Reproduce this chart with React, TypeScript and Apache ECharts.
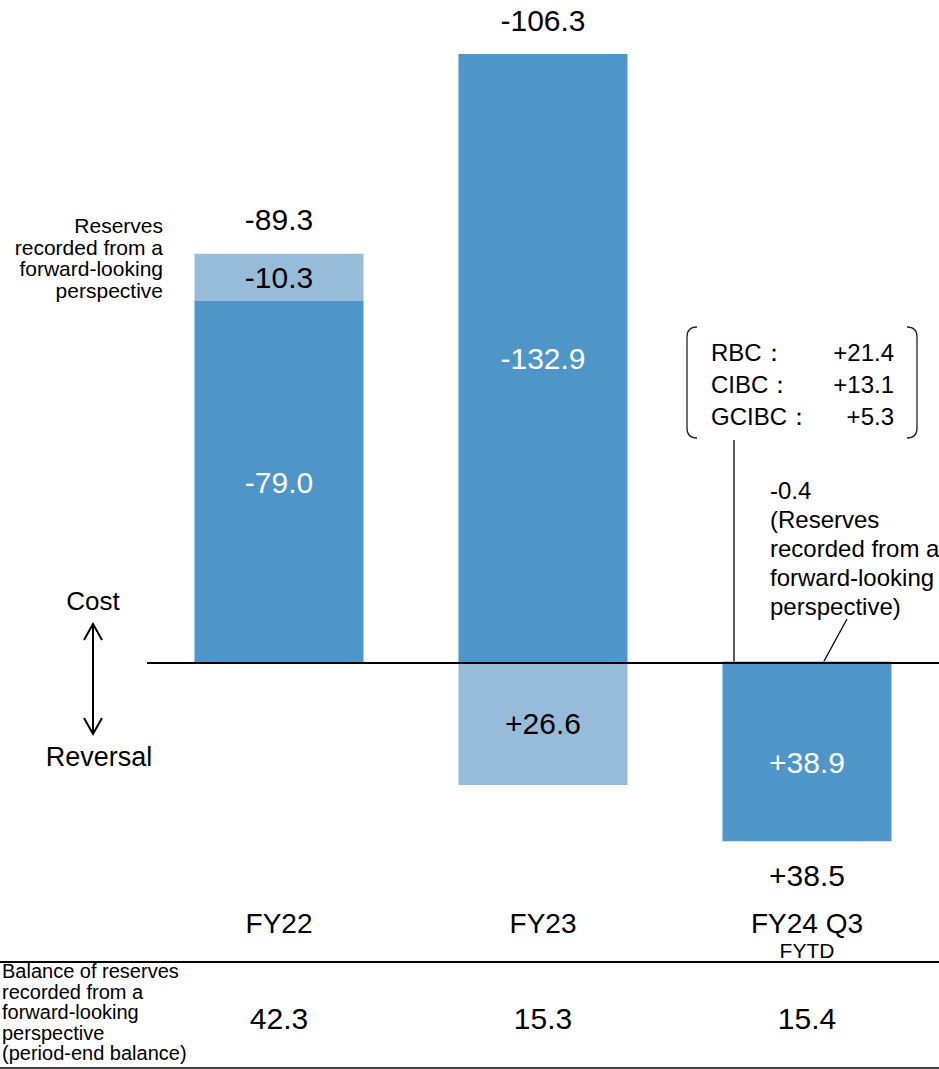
import React, { useEffect, useRef } from "react";
import * as echarts from "echarts";

const categories = ["FY22", "FY23", "FY24 Q3"];
const categorySubLabels = ["", "", "FYTD"];
// positive = cost (drawn upward), negative = reversal (drawn downward)
const specificValues = [79.0, 132.9, -38.9];
const forwardLookingValues = [10.3, -26.6, 0.4];
const balances = [42.3, 15.3, 15.4];
const callRows = ["RBC：", "CIBC：", "GCIBC："];
const callValues = ["+21.4", "+13.1", "+5.3"];

const DARK = "#4F96C8";
const LIGHT = "#96BCD9";
const FONT = '"Liberation Sans", Arial, sans-serif';

const fmt = (v: number) => (v > 0 ? "-" : "+") + Math.abs(v).toFixed(1);

echarts.graphic.registerShape(
  "bracketL",
  echarts.graphic.extendPath("M 10 0 Q 0 0 0 10 L 0 101 Q 0 111 10 111", {})
);
echarts.graphic.registerShape(
  "bracketR",
  echarts.graphic.extendPath("M 0 0 Q 10 0 10 10 L 10 101 Q 10 111 0 111", {})
);

export default function App() {
  const ref = useRef<HTMLDivElement>(null);
  useEffect(() => {
    document.body.style.margin = "0";
    const chart = echarts.init(ref.current!, null, { renderer: "svg" });

    const totals = categories.map((_, i) => {
      const vals = [specificValues[i], forwardLookingValues[i]];
      const pos = vals.filter((v) => v > 0).reduce((a, b) => a + b, 0);
      const neg = vals.filter((v) => v < 0).reduce((a, b) => a + b, 0);
      const net = vals[0] + vals[1];
      return {
        value: net > 0 ? pos : neg,
        label: {
          show: true,
          position: net > 0 ? "top" : "bottom",
          distance: 19,
          color: "#000",
          opacity: 1,
          formatter: fmt(Math.round(net * 10) / 10),
        },
      };
    });

    const text = (x: number, y: number, t: string, size: number, extra: any = {}) => ({
      type: "text",
      x,
      y,
      style: {
        text: t,
        fill: "#000",
        fontFamily: FONT,
        fontSize: size,
        align: "center",
        verticalAlign: "middle",
        ...extra,
      },
    });
    const line = (x1: number, y1: number, x2: number, y2: number, w = 1.5) => ({
      type: "line",
      shape: { x1, y1, x2, y2 },
      style: { stroke: "#000", lineWidth: w },
    });

    const graphics: any[] = [
      text(163, 215, "Reserves\nrecorded from a\nforward-looking\nperspective", 21, {
        align: "right",
        verticalAlign: "top",
        lineHeight: 21.5,
      }),
      text(93, 601, "Cost", 26),
      text(99, 757, "Reversal", 27),
      line(93, 624, 93, 734, 2),
      {
        type: "polyline",
        shape: { points: [[84, 640], [93, 624], [102, 640]] },
        style: { stroke: "#000", lineWidth: 2, fill: "none" },
      },
      {
        type: "polyline",
        shape: { points: [[84, 718], [93, 734], [102, 718]] },
        style: { stroke: "#000", lineWidth: 2, fill: "none" },
      },
      { type: "bracketL", x: 687, y: 327, style: { stroke: "#222", lineWidth: 1.3, fill: "none" } },
      { type: "bracketR", x: 907, y: 327, style: { stroke: "#222", lineWidth: 1.3, fill: "none" } },
      line(734, 440, 734, 663, 1.3),
      text(770, 476, "-0.4\n(Reserves\nrecorded from a\nforward-looking\nperspective)", 24, {
        align: "left",
        verticalAlign: "top",
        lineHeight: 29,
      }),
      line(847, 619, 823, 663, 1.3),
      line(0, 962, 939, 962, 2),
      line(0, 1068, 939, 1068, 1.5),
      text(2, 961, "Balance of reserves\nrecorded from a\nforward-looking\nperspective\n(period-end balance)", 20, {
        align: "left",
        verticalAlign: "top",
        lineHeight: 20.5,
      }),
    ];
    callRows.forEach((r, i) => {
      graphics.push(text(711, 352 + i * 32, r, 24, { align: "left" }));
      graphics.push(text(894, 352 + i * 32, callValues[i], 24, { align: "right" }));
    });

    chart.setOption({
      animation: false,
      backgroundColor: "#fff",
      textStyle: { fontFamily: FONT },
      grid: { left: 147, right: 0, top: 21.5, bottom: 1069 - 892.1 },
      xAxis: [
        {
          type: "category",
          data: categories,
          position: "bottom",
          axisLine: { show: false, onZero: false },
          axisTick: { show: false },
          axisLabel: {
            margin: 17,
            interval: 0,
            formatter: (v: string, i: number) =>
              "{a|" + v + "}" + (categorySubLabels[i] ? "\n{b|" + categorySubLabels[i] + "}" : ""),
            rich: {
              a: { fontSize: 28, lineHeight: 28, color: "#000", fontFamily: FONT },
              b: { fontSize: 21, lineHeight: 26, color: "#000", fontFamily: FONT },
            },
          },
        },
        {
          type: "category",
          data: categories,
          position: "bottom",
          offset: 100,
          axisLine: { show: false, onZero: false },
          axisTick: { show: false },
          axisLabel: {
            margin: 11,
            interval: 0,
            fontSize: 30,
            lineHeight: 30,
            color: "#000",
            fontFamily: FONT,
            formatter: (_v: string, i: number) => balances[i].toFixed(1),
          },
        },
      ],
      yAxis: {
        type: "value",
        min: -50,
        max: 140,
        show: false,
        splitLine: { show: false },
      },
      series: [
        {
          type: "bar",
          stack: "total",
          barWidth: 169,
          itemStyle: { color: DARK },
          data: specificValues.map((v) => ({
            value: v,
            label: { offset: v < 0 ? [0, 10] : [0, 0] },
          })),
          label: {
            show: true,
            position: "inside",
            color: "#fff",
            fontSize: 30,
            fontFamily: FONT,
            formatter: (p: any) => fmt(p.value),
          },
          markLine: {
            silent: true,
            symbol: ["none", "none"],
            label: { show: false },
            lineStyle: { color: "#000", width: 2, type: "solid" },
            data: [{ yAxis: 0 }],
          },
        },
        {
          type: "bar",
          stack: "total",
          barWidth: 169,
          itemStyle: { color: LIGHT },
          data: forwardLookingValues.map((v) => ({
            value: v,
            label: { show: Math.abs(v) >= 1 },
          })),
          label: {
            show: true,
            position: "inside",
            color: "#000",
            fontSize: 30,
            fontFamily: FONT,
            formatter: (p: any) => fmt(p.value),
          },
        },
        {
          type: "scatter",
          symbolSize: 0,
          itemStyle: { color: "#000", opacity: 1 },
          label: { color: "#000", fontSize: 30, fontFamily: FONT },
          data: totals,
          z: 5,
        },
      ],
      graphic: graphics,
    });
    return () => chart.dispose();
  }, []);
  return (
    <div
      ref={ref}
      style={{ position: "absolute", left: 0, top: 0, width: 939, height: 1069 }}
    />
  );
}
